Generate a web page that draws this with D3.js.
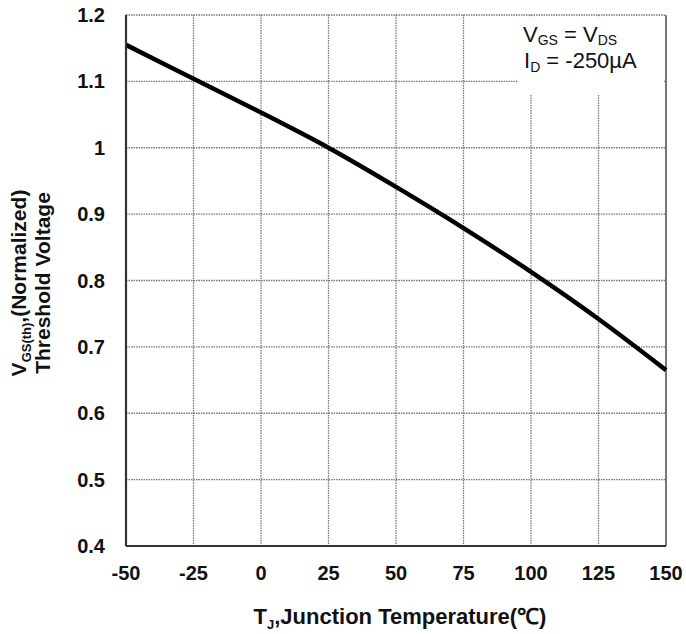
<!DOCTYPE html>
<html lang="en">
<head>
<meta charset="utf-8">
<script src="https://cdn.jsdelivr.net/npm/d3@7"></script>
<style>
    body { margin: 0; background: #fff; }
    text { font-family: "Liberation Sans", Arial, sans-serif; fill: #111; }
    .tick-label { font-size: 20px; font-weight: bold; }
    .axis-title { font-size: 21px; font-weight: bold; }
    .legend { font-size: 22px; }
    .grid line { stroke: #777; stroke-width: 1.3; stroke-dasharray: 1.5 1; }
    .curve { fill: none; stroke: #000; stroke-width: 4.5; }
</style>
</head>
<body>
<div id="chart"></div>
<script>
// tick labels
var xTicks = [-50, -25, 0, 25, 50, 75, 100, 125, 150];
var yTicks = [0.4, 0.5, 0.6, 0.7, 0.8, 0.9, 1, 1.1, 1.2];

// curve
var temps = [-50, -25, 0, 25, 50, 75, 100, 125, 150];
var vth   = [1.155, 1.104, 1.053, 1.0, 0.941, 0.879, 0.813, 0.742, 0.665];

var margin = {top: 15, right: 20, bottom: 88, left: 126};
var W = 686, H = 634;
var width = W - margin.left - margin.right;   // 540
var height = H - margin.top - margin.bottom;  // 531

var svg = d3.select("#chart").append("svg")
    .attr("width", W)
    .attr("height", H);

var g = svg.append("g")
    .attr("transform", "translate(" + margin.left + "," + margin.top + ")");

var x = d3.scaleLinear().domain([-50, 150]).range([0, width]);
var y = d3.scaleLinear().domain([0.4, 1.2]).range([height, 0]);

// grid
var grid = g.append("g").attr("class", "grid");
grid.selectAll(".vx").data(xTicks.slice(1, -1)).enter().append("line")
    .attr("x1", function (d) { return x(d); })
    .attr("x2", function (d) { return x(d); })
    .attr("y1", 0).attr("y2", height);
grid.selectAll(".hy").data(yTicks.slice(1)).enter().append("line")
    .attr("x1", 0).attr("x2", width)
    .attr("y1", function (d) { return y(d); })
    .attr("y2", function (d) { return y(d); });

// right border
g.append("line")
    .attr("x1", width).attr("x2", width)
    .attr("y1", 0).attr("y2", height)
    .attr("stroke", "#777").attr("stroke-width", 2);

// white box behind the legend
g.append("rect")
    .attr("x", 392).attr("y", 1.5)
    .attr("width", width - 394).attr("height", 78)
    .attr("fill", "#fff");

// curve
var line = d3.line()
    .x(function (d, i) { return x(temps[i]); })
    .y(function (d) { return y(d); })
    .curve(d3.curveCatmullRom);

g.append("path")
    .datum(vth)
    .attr("class", "curve")
    .attr("d", line);

// left and bottom axes
g.append("line").attr("x1", 0).attr("x2", 0).attr("y1", 0).attr("y2", height)
    .attr("stroke", "#333").attr("stroke-width", 2.2);
g.append("line").attr("x1", 0).attr("x2", width).attr("y1", height).attr("y2", height)
    .attr("stroke", "#333").attr("stroke-width", 2.2);

// tick labels
g.selectAll(".yl").data(yTicks).enter().append("text")
    .attr("class", "tick-label")
    .attr("x", -21)
    .attr("y", function (d) { return y(d); })
    .attr("dy", "0.35em")
    .attr("text-anchor", "end")
    .text(function (d) { return d; });

g.selectAll(".xl").data(xTicks).enter().append("text")
    .attr("class", "tick-label")
    .attr("x", function (d) { return x(d); })
    .attr("y", height + 34)
    .attr("text-anchor", "middle")
    .text(function (d) { return d; });

// axis titles
var xt = svg.append("text")
    .attr("class", "axis-title")
    .style("font-size", "22px")
    .attr("x", 400).attr("y", 624)
    .attr("text-anchor", "middle");
xt.append("tspan").text("T");
xt.append("tspan").attr("dy", 5).style("font-size", "13px").text("J");
xt.append("tspan").attr("dy", -5).text(",Junction Temperature(\u2103)");

var yt = svg.append("text")
    .attr("class", "axis-title")
    .attr("transform", "translate(26,283) rotate(-90)")
    .attr("text-anchor", "middle");
yt.append("tspan").text("V");
yt.append("tspan").attr("dy", 5).style("font-size", "13px").text("GS(th)");
yt.append("tspan").attr("dy", -5).text(",(Normalized)");

svg.append("text")
    .attr("class", "axis-title")
    .attr("transform", "translate(50,283) rotate(-90)")
    .attr("text-anchor", "middle")
    .text("Threshold Voltage");

// legend
var l1 = svg.append("text").attr("class", "legend").attr("x", 523).attr("y", 42);
l1.append("tspan").text("V");
l1.append("tspan").attr("dy", 3).style("font-size", "14px").text("GS");
l1.append("tspan").attr("dy", -3).text(" = V");
l1.append("tspan").attr("dy", 3).style("font-size", "14px").text("DS");

var l2 = svg.append("text").attr("class", "legend").attr("x", 524).attr("y", 68);
l2.append("tspan").text("I");
l2.append("tspan").attr("dy", 4).style("font-size", "14px").text("D");
l2.append("tspan").attr("dy", -4).text(" = -250\u00b5A");
</script>
</body>
</html>
